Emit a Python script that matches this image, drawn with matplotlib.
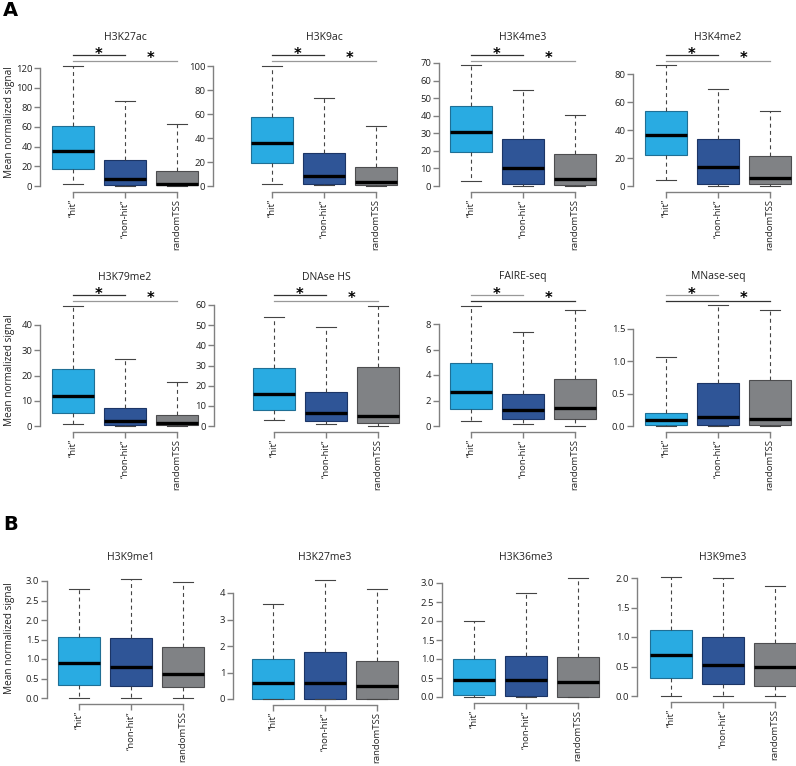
import matplotlib
matplotlib.use("Agg")
import matplotlib.pyplot as plt

plt.rcParams["font.family"] = ["Open Sans", "DejaVu Sans"]

groups = ["\u201chit\u201d", "\u201cnon-hit\u201d", "randomTSS"]
colors = ["#29abe2", "#2f5597", "#808285"]
edges = ["#1f6f95", "#1c3566", "#4d4d4f"]

# box stats per group: [whisker low, q1, median, q3, whisker high]
h3k27ac = [[1.7, 17.3, 35.4, 61.5, 122.4], [0.5, 1.0, 6.8, 26.2, 86.3], [0.5, 1.0, 2.4, 15.3, 62.9]]
h3k9ac = [[1.9, 19.4, 35.8, 57.5, 100.0], [0.5, 1.4, 8.3, 27.8, 73.3], [0.3, 0.5, 3.1, 15.8, 50.0]]
h3k4me3 = [[2.9, 19.1, 30.7, 45.6, 68.7], [0.2, 1.3, 10.5, 26.5, 54.9], [0.2, 0.8, 4.0, 18.1, 40.6]]
h3k4me2 = [[4.1, 21.8, 36.4, 53.4, 86.2], [0.2, 1.4, 13.9, 33.3, 69.0], [0.2, 1.2, 6.0, 21.6, 53.4]]
h3k79me2 = [[0.7, 5.0, 11.7, 22.4, 47.7], [0.1, 0.5, 2.0, 7.0, 26.6], [0.1, 0.3, 1.2, 4.2, 17.4]]
dnase = [[3.1, 8.1, 15.9, 28.8, 54.0], [0.8, 2.5, 6.6, 16.9, 49.2], [0.2, 1.3, 5.1, 29.2, 59.7]]
faire = [[0.42, 1.36, 2.68, 4.98, 9.44], [0.13, 0.58, 1.23, 2.52, 7.40], [0.03, 0.52, 1.39, 3.70, 9.10]]
mnase = [[0.0, 0.01, 0.09, 0.20, 1.06], [0.0, 0.01, 0.135, 0.67, 1.87], [0.0, 0.01, 0.11, 0.71, 1.80]]
h3k9me1 = [[0.0, 0.33, 0.90, 1.57, 2.79], [0.0, 0.31, 0.80, 1.55, 3.05], [0.0, 0.28, 0.61, 1.32, 2.97]]
h3k27me3 = [[0.0, 0.0, 0.60, 1.51, 3.60], [0.0, 0.0, 0.60, 1.79, 4.50], [0.0, 0.0, 0.49, 1.43, 4.15]]
h3k36me3 = [[0.0, 0.06, 0.44, 0.99, 2.00], [0.0, 0.02, 0.45, 1.09, 2.73], [0.0, 0.0, 0.40, 1.06, 3.12]]
h3k9me3 = [[0.0, 0.30, 0.69, 1.12, 2.01], [0.0, 0.20, 0.52, 1.00, 2.00], [0.0, 0.17, 0.50, 0.89, 1.87]]

names = ["H3K27ac", "H3K9ac", "H3K4me3", "H3K4me2",
         "H3K79me2", "DNAse HS", "FAIRE-seq", "MNase-seq",
         "H3K9me1", "H3K27me3", "H3K36me3", "H3K9me3"]
stats = [h3k27ac, h3k9ac, h3k4me3, h3k4me2, h3k79me2, dnase, faire, mnase,
         h3k9me1, h3k27me3, h3k36me3, h3k9me3]
yticks = [[0, 20, 40, 60, 80, 100, 120], [0, 20, 40, 60, 80, 100], [0, 10, 20, 30, 40, 50, 60, 70],
          [0, 20, 40, 60, 80], [0, 10, 20, 30, 40], [0, 10, 20, 30, 40, 50, 60], [0, 2, 4, 6, 8],
          [0.0, 0.5, 1.0, 1.5], [0.0, 0.5, 1.0, 1.5, 2.0, 2.5, 3.0], [0, 1, 2, 3, 4],
          [0.0, 0.5, 1.0, 1.5, 2.0, 2.5, 3.0], [0.0, 0.5, 1.0, 1.5, 2.0]]
ytick_fmt = ["%d"] * 7 + ["%.1f", "%.1f", "%d", "%.1f", "%.1f"]
significant = [True] * 8 + [False] * 4

# layout in pixels
W, H = 796, 766
spine_x = [40, 213, 439, 633, 40, 214, 439, 633, 47, 233, 442, 637]
hit_x = [73, 272, 471, 666, 73, 274, 471, 666, 79, 273, 474, 671]
zero_y = [186] * 4 + [426] * 4 + [698, 699, 697, 696]
toptick_y = [68, 66, 63, 74, 325, 305, 324, 329, 581, 593, 583, 578]
title_y = [37] * 4 + [277] * 4 + [557] * 4
step = 52

fig = plt.figure(figsize=(W / 100, H / 100), dpi=100)

for i in range(12):
    y0 = zero_y[i]
    top = y0 - 150
    right = hit_x[i] + 2 * step + 28
    scale = (y0 - toptick_y[i]) / yticks[i][-1]
    ax = fig.add_axes([spine_x[i] / W, 1 - y0 / H, (right - spine_x[i]) / W, (y0 - top) / H])
    ax.set_xlim(1 - (hit_x[i] - spine_x[i]) / step, 1 + (right - hit_x[i]) / step)
    ax.set_ylim(0, (y0 - top) / scale)
    ax.patch.set_visible(False)

    box_stats = [dict(whislo=s[0], q1=s[1], med=s[2], q3=s[3], whishi=s[4]) for s in stats[i]]
    bp = ax.bxp(box_stats, positions=[1, 2, 3], widths=0.8, capwidths=0.4,
                showfliers=False, patch_artist=True,
                whiskerprops=dict(color="#444444", linewidth=0.8, linestyle=(0, (3.5, 3))),
                capprops=dict(color="#444444", linewidth=0.8),
                medianprops=dict(color="black", linewidth=2.4, solid_capstyle="butt"))
    for patch, c, e in zip(bp["boxes"], colors, edges):
        patch.set_facecolor(c)
        patch.set_edgecolor(e)
        patch.set_linewidth(0.8)
    for key in ["boxes", "whiskers", "caps", "medians"]:
        for artist in bp[key]:
            artist.set_clip_on(False)

    for side in ["top", "right"]:
        ax.spines[side].set_visible(False)
    ax.spines["left"].set_bounds(yticks[i][0], yticks[i][-1])
    ax.spines["bottom"].set_bounds(1, 3)
    ax.spines["bottom"].set_position(("outward", 4))
    for side in ["left", "bottom"]:
        ax.spines[side].set_color("#808080")
        ax.spines[side].set_linewidth(1.0)
    ax.set_yticks(yticks[i])
    ax.set_yticklabels([ytick_fmt[i] % v for v in yticks[i]])
    ax.set_xticks([1, 2, 3])
    ax.set_xticklabels(groups, rotation=90, va="top")
    ax.tick_params(axis="both", colors="#808080", labelcolor="#222222", length=4, width=1.0,
                   labelsize=6.8, pad=1.5)

    fig.text(hit_x[i] / W + step / W, 1 - title_y[i] / H, names[i], ha="center", va="center",
             fontsize=7.5, color="#222222")

    if significant[i]:
        l1 = 131 / scale
        l2 = 125 / scale
        c1, c2 = ("#333333", "#999999") if i not in (6, 7) else ("#999999", "#333333")
        ax.plot([1, 2], [l1, l1], color=c1, linewidth=0.9, clip_on=False)
        ax.plot([1, 3], [l2, l2], color=c2, linewidth=0.9, clip_on=False)
        ax.annotate("*", (1.5, l1), xytext=(0, -3.2), textcoords="offset points",
                    ha="center", va="baseline", fontsize=10.5, fontweight="bold",
                    family="DejaVu Sans", annotation_clip=False)
        ax.annotate("*", (2.5, l2), xytext=(0, -1.2), textcoords="offset points",
                    ha="center", va="baseline", fontsize=10.5, fontweight="bold",
                    family="DejaVu Sans", annotation_clip=False)

for yc in [122, 370, 638]:
    fig.text(10 / W, 1 - yc / H, "Mean normalized signal", rotation=90, ha="center", va="center",
             fontsize=7.2, color="#222222")

fig.text(3 / W, 1 - 10 / H, "A", fontsize=14, fontweight="bold", family="DejaVu Sans",
         ha="left", va="center")
fig.text(3 / W, 1 - 524 / H, "B", fontsize=14, fontweight="bold", family="DejaVu Sans",
         ha="left", va="center")

fig.savefig("out.png", dpi=100)
